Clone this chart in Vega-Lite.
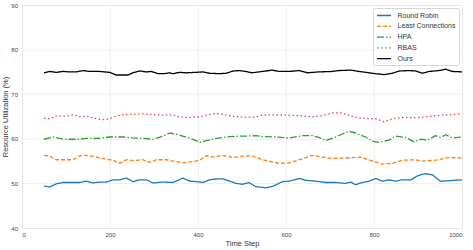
{
  "$schema": "https://vega.github.io/schema/vega-lite/v6.json",
  "width": 440,
  "height": 223,
  "autosize": {"type": "none"},
  "padding": {"left": 22, "top": 5, "right": 11, "bottom": 22},
  "config": {
    "font": "Liberation Sans",
    "view": {"stroke": "#cfcfcf", "strokeWidth": 1},
    "axis": {
      "grid": true,
      "gridColor": "#ebebeb",
      "gridWidth": 0.8,
      "domain": false,
      "ticks": false,
      "labelFontSize": 6,
      "labelColor": "#444444",
      "titleFontSize": 7.5,
      "titleFontWeight": "normal",
      "titleColor": "#333333"
    }
  },
  "data": {
    "values": [
      {"method":"Round Robin","step":50,"util":49.4},{"method":"Round Robin","step":63,"util":49.2},{"method":"Round Robin","step":78,"util":49.9},{"method":"Round Robin","step":93,"util":50.2},{"method":"Round Robin","step":116,"util":50.2},{"method":"Round Robin","step":131,"util":50.2},{"method":"Round Robin","step":146,"util":50.5},{"method":"Round Robin","step":161,"util":50.1},{"method":"Round Robin","step":176,"util":50.3},{"method":"Round Robin","step":192,"util":50.3},{"method":"Round Robin","step":207,"util":50.8},{"method":"Round Robin","step":222,"util":50.8},{"method":"Round Robin","step":237,"util":51.2},{"method":"Round Robin","step":252,"util":50.4},{"method":"Round Robin","step":267,"util":50.8},{"method":"Round Robin","step":283,"util":50.8},{"method":"Round Robin","step":298,"util":50.1},{"method":"Round Robin","step":320,"util":50.3},{"method":"Round Robin","step":343,"util":50.2},{"method":"Round Robin","step":366,"util":51.2},{"method":"Round Robin","step":381,"util":50.5},{"method":"Round Robin","step":396,"util":50.4},{"method":"Round Robin","step":411,"util":50.2},{"method":"Round Robin","step":426,"util":50.8},{"method":"Round Robin","step":442,"util":51.0},{"method":"Round Robin","step":457,"util":51.0},{"method":"Round Robin","step":472,"util":50.5},{"method":"Round Robin","step":487,"util":50.0},{"method":"Round Robin","step":501,"util":49.8},{"method":"Round Robin","step":516,"util":50.2},{"method":"Round Robin","step":531,"util":49.3},{"method":"Round Robin","step":554,"util":49.0},{"method":"Round Robin","step":569,"util":49.3},{"method":"Round Robin","step":592,"util":50.4},{"method":"Round Robin","step":607,"util":50.5},{"method":"Round Robin","step":630,"util":51.1},{"method":"Round Robin","step":645,"util":50.7},{"method":"Round Robin","step":668,"util":50.5},{"method":"Round Robin","step":690,"util":50.2},{"method":"Round Robin","step":713,"util":50.2},{"method":"Round Robin","step":736,"util":50.0},{"method":"Round Robin","step":747,"util":50.3},{"method":"Round Robin","step":758,"util":49.7},{"method":"Round Robin","step":773,"util":50.2},{"method":"Round Robin","step":789,"util":50.5},{"method":"Round Robin","step":804,"util":51.1},{"method":"Round Robin","step":819,"util":50.5},{"method":"Round Robin","step":834,"util":50.8},{"method":"Round Robin","step":849,"util":50.5},{"method":"Round Robin","step":865,"util":50.8},{"method":"Round Robin","step":884,"util":50.8},{"method":"Round Robin","step":899,"util":51.7},{"method":"Round Robin","step":917,"util":52.2},{"method":"Round Robin","step":933,"util":51.9},{"method":"Round Robin","step":951,"util":50.5},{"method":"Round Robin","step":970,"util":50.6},{"method":"Round Robin","step":1000,"util":50.8},
      {"method":"Least Connections","step":50,"util":56.3},{"method":"Least Connections","step":63,"util":56.1},{"method":"Least Connections","step":78,"util":55.3},{"method":"Least Connections","step":101,"util":55.3},{"method":"Least Connections","step":116,"util":55.3},{"method":"Least Connections","step":131,"util":56.2},{"method":"Least Connections","step":146,"util":56.3},{"method":"Least Connections","step":169,"util":55.9},{"method":"Least Connections","step":192,"util":55.4},{"method":"Least Connections","step":207,"util":55.2},{"method":"Least Connections","step":222,"util":54.5},{"method":"Least Connections","step":237,"util":55.3},{"method":"Least Connections","step":252,"util":55.1},{"method":"Least Connections","step":275,"util":55.3},{"method":"Least Connections","step":290,"util":54.7},{"method":"Least Connections","step":305,"util":55.3},{"method":"Least Connections","step":328,"util":55.3},{"method":"Least Connections","step":343,"util":55.0},{"method":"Least Connections","step":366,"util":54.6},{"method":"Least Connections","step":389,"util":54.9},{"method":"Least Connections","step":404,"util":55.2},{"method":"Least Connections","step":419,"util":56.2},{"method":"Least Connections","step":434,"util":55.9},{"method":"Least Connections","step":457,"util":56.3},{"method":"Least Connections","step":480,"util":55.8},{"method":"Least Connections","step":501,"util":56.1},{"method":"Least Connections","step":523,"util":56.2},{"method":"Least Connections","step":546,"util":55.3},{"method":"Least Connections","step":584,"util":54.5},{"method":"Least Connections","step":607,"util":54.6},{"method":"Least Connections","step":637,"util":55.5},{"method":"Least Connections","step":660,"util":56.3},{"method":"Least Connections","step":683,"util":55.9},{"method":"Least Connections","step":705,"util":55.6},{"method":"Least Connections","step":736,"util":55.7},{"method":"Least Connections","step":766,"util":55.9},{"method":"Least Connections","step":789,"util":55.3},{"method":"Least Connections","step":819,"util":54.3},{"method":"Least Connections","step":842,"util":54.5},{"method":"Least Connections","step":865,"util":55.2},{"method":"Least Connections","step":895,"util":55.3},{"method":"Least Connections","step":910,"util":55.0},{"method":"Least Connections","step":940,"util":55.2},{"method":"Least Connections","step":970,"util":55.8},{"method":"Least Connections","step":1000,"util":55.7},
      {"method":"HPA","step":50,"util":59.9},{"method":"HPA","step":71,"util":60.4},{"method":"HPA","step":86,"util":60.1},{"method":"HPA","step":101,"util":59.9},{"method":"HPA","step":123,"util":59.9},{"method":"HPA","step":146,"util":60.1},{"method":"HPA","step":176,"util":60.1},{"method":"HPA","step":199,"util":60.4},{"method":"HPA","step":230,"util":60.4},{"method":"HPA","step":252,"util":60.2},{"method":"HPA","step":275,"util":60.1},{"method":"HPA","step":298,"util":59.9},{"method":"HPA","step":320,"util":60.6},{"method":"HPA","step":336,"util":61.3},{"method":"HPA","step":351,"util":61.0},{"method":"HPA","step":373,"util":60.4},{"method":"HPA","step":396,"util":59.6},{"method":"HPA","step":404,"util":59.2},{"method":"HPA","step":419,"util":59.6},{"method":"HPA","step":442,"util":60.1},{"method":"HPA","step":464,"util":60.4},{"method":"HPA","step":494,"util":60.6},{"method":"HPA","step":508,"util":60.6},{"method":"HPA","step":531,"util":60.7},{"method":"HPA","step":546,"util":60.5},{"method":"HPA","step":577,"util":60.4},{"method":"HPA","step":607,"util":60.2},{"method":"HPA","step":637,"util":60.7},{"method":"HPA","step":660,"util":60.7},{"method":"HPA","step":675,"util":60.3},{"method":"HPA","step":690,"util":59.6},{"method":"HPA","step":713,"util":60.4},{"method":"HPA","step":743,"util":61.7},{"method":"HPA","step":758,"util":61.3},{"method":"HPA","step":781,"util":60.4},{"method":"HPA","step":796,"util":59.5},{"method":"HPA","step":811,"util":59.2},{"method":"HPA","step":834,"util":59.7},{"method":"HPA","step":849,"util":60.6},{"method":"HPA","step":872,"util":60.3},{"method":"HPA","step":891,"util":59.3},{"method":"HPA","step":906,"util":59.9},{"method":"HPA","step":921,"util":59.7},{"method":"HPA","step":940,"util":60.7},{"method":"HPA","step":951,"util":60.3},{"method":"HPA","step":963,"util":60.9},{"method":"HPA","step":978,"util":60.2},{"method":"HPA","step":1000,"util":60.4},
      {"method":"RBAS","step":50,"util":64.6},{"method":"RBAS","step":63,"util":64.5},{"method":"RBAS","step":78,"util":65.1},{"method":"RBAS","step":101,"util":65.1},{"method":"RBAS","step":116,"util":65.4},{"method":"RBAS","step":131,"util":65.0},{"method":"RBAS","step":146,"util":65.1},{"method":"RBAS","step":169,"util":64.5},{"method":"RBAS","step":184,"util":64.3},{"method":"RBAS","step":199,"util":64.5},{"method":"RBAS","step":214,"util":65.1},{"method":"RBAS","step":230,"util":65.4},{"method":"RBAS","step":252,"util":65.5},{"method":"RBAS","step":275,"util":65.6},{"method":"RBAS","step":298,"util":65.4},{"method":"RBAS","step":320,"util":65.3},{"method":"RBAS","step":343,"util":65.4},{"method":"RBAS","step":358,"util":64.9},{"method":"RBAS","step":381,"util":64.8},{"method":"RBAS","step":404,"util":64.9},{"method":"RBAS","step":419,"util":65.3},{"method":"RBAS","step":442,"util":65.7},{"method":"RBAS","step":464,"util":65.3},{"method":"RBAS","step":486,"util":65.0},{"method":"RBAS","step":508,"util":64.8},{"method":"RBAS","step":531,"util":64.9},{"method":"RBAS","step":546,"util":65.3},{"method":"RBAS","step":577,"util":65.4},{"method":"RBAS","step":599,"util":65.3},{"method":"RBAS","step":630,"util":65.2},{"method":"RBAS","step":660,"util":64.9},{"method":"RBAS","step":683,"util":65.2},{"method":"RBAS","step":705,"util":65.8},{"method":"RBAS","step":728,"util":65.8},{"method":"RBAS","step":747,"util":65.1},{"method":"RBAS","step":766,"util":64.7},{"method":"RBAS","step":789,"util":64.5},{"method":"RBAS","step":804,"util":64.5},{"method":"RBAS","step":823,"util":63.8},{"method":"RBAS","step":842,"util":64.5},{"method":"RBAS","step":865,"util":64.8},{"method":"RBAS","step":895,"util":64.7},{"method":"RBAS","step":925,"util":65.0},{"method":"RBAS","step":955,"util":65.3},{"method":"RBAS","step":978,"util":65.4},{"method":"RBAS","step":1000,"util":65.6},
      {"method":"Ours","step":50,"util":74.8},{"method":"Ours","step":63,"util":75.1},{"method":"Ours","step":78,"util":74.9},{"method":"Ours","step":93,"util":75.1},{"method":"Ours","step":108,"util":75.0},{"method":"Ours","step":123,"util":75.0},{"method":"Ours","step":139,"util":75.3},{"method":"Ours","step":154,"util":75.1},{"method":"Ours","step":176,"util":75.1},{"method":"Ours","step":199,"util":74.9},{"method":"Ours","step":214,"util":74.3},{"method":"Ours","step":230,"util":74.3},{"method":"Ours","step":241,"util":74.3},{"method":"Ours","step":252,"util":74.8},{"method":"Ours","step":267,"util":75.2},{"method":"Ours","step":283,"util":75.0},{"method":"Ours","step":294,"util":75.1},{"method":"Ours","step":309,"util":74.6},{"method":"Ours","step":324,"util":74.6},{"method":"Ours","step":336,"util":74.8},{"method":"Ours","step":343,"util":74.6},{"method":"Ours","step":358,"util":74.9},{"method":"Ours","step":373,"util":74.8},{"method":"Ours","step":396,"util":74.9},{"method":"Ours","step":411,"util":75.0},{"method":"Ours","step":426,"util":74.7},{"method":"Ours","step":449,"util":74.6},{"method":"Ours","step":464,"util":74.7},{"method":"Ours","step":480,"util":75.2},{"method":"Ours","step":494,"util":75.3},{"method":"Ours","step":508,"util":75.1},{"method":"Ours","step":523,"util":74.8},{"method":"Ours","step":546,"util":75.1},{"method":"Ours","step":569,"util":75.4},{"method":"Ours","step":584,"util":75.1},{"method":"Ours","step":607,"util":75.1},{"method":"Ours","step":630,"util":75.3},{"method":"Ours","step":649,"util":74.8},{"method":"Ours","step":675,"util":75.0},{"method":"Ours","step":705,"util":75.1},{"method":"Ours","step":720,"util":75.3},{"method":"Ours","step":747,"util":75.4},{"method":"Ours","step":766,"util":75.1},{"method":"Ours","step":789,"util":74.8},{"method":"Ours","step":804,"util":74.6},{"method":"Ours","step":823,"util":74.4},{"method":"Ours","step":842,"util":74.7},{"method":"Ours","step":857,"util":75.2},{"method":"Ours","step":880,"util":75.3},{"method":"Ours","step":895,"util":75.2},{"method":"Ours","step":910,"util":74.7},{"method":"Ours","step":925,"util":75.1},{"method":"Ours","step":948,"util":75.3},{"method":"Ours","step":963,"util":75.6},{"method":"Ours","step":978,"util":75.1},{"method":"Ours","step":1000,"util":75.0}
    ]
  },
  "mark": {"type": "line", "strokeCap": "butt", "strokeJoin": "round"},
  "encoding": {
    "x": {
      "field": "step", "type": "quantitative",
      "scale": {"domain": [0, 1000], "nice": false},
      "axis": {"values": [0, 200, 400, 600, 800, 1000], "format": "d", "title": "Time Step", "labelPadding": 3.5, "titlePadding": 2}
    },
    "y": {
      "field": "util", "type": "quantitative",
      "scale": {"domain": [40, 90], "nice": false, "zero": false},
      "axis": {"values": [40, 50, 60, 70, 80, 90], "title": "Resource Utilization (%)", "labelPadding": 4.5, "titlePadding": 1.5}
    },
    "color": {
      "field": "method", "type": "nominal",
      "scale": {"domain": ["Round Robin", "Least Connections", "HPA", "RBAS", "Ours"], "range": ["#1f77b4", "#ff7f0e", "#2ca02c", "#e0474c", "#000000"]},
      "legend": {
        "title": null, "orient": "top-right", "offset": 3,
        "fillColor": "#ffffff", "strokeColor": "#d6d6d6", "cornerRadius": 2, "padding": 3,
        "symbolType": "M-1,0H3", "symbolSize": 49, "labelFontSize": 7, "labelColor": "#333333",
        "rowPadding": 2.8, "labelOffset": 12.5
      }
    },
    "strokeDash": {
      "field": "method", "type": "nominal",
      "scale": {"domain": ["Round Robin", "Least Connections", "HPA", "RBAS", "Ours"], "range": [[1, 0], [4, 2], [7, 2, 1.5, 2], [1.5, 2.5], [1, 0]]},
      "legend": {"title": null}
    },
    "strokeWidth": {
      "field": "method", "type": "nominal",
      "scale": {"domain": ["Round Robin", "Least Connections", "HPA", "RBAS", "Ours"], "range": [1.3, 1.3, 1.3, 1.3, 2.3]},
      "legend": {"title": null}
    }
  }
}
